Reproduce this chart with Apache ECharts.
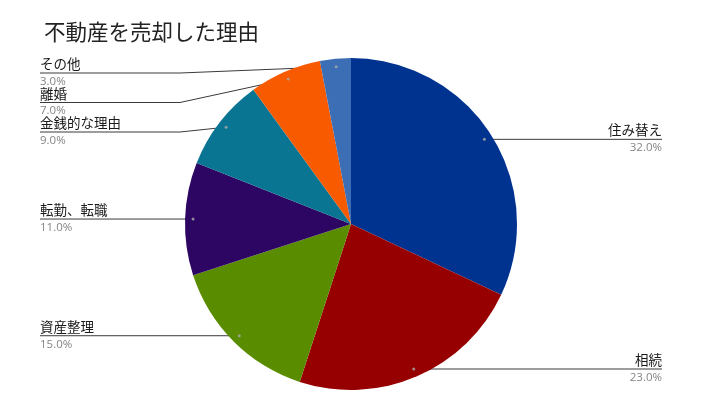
<!DOCTYPE html>
<html>
<head>
<meta charset="utf-8">
<script src="https://cdn.jsdelivr.net/npm/echarts@6/dist/echarts.min.js"></script>
<style>
html,body{margin:0;padding:0;background:#fff;}
#chart{width:718px;height:418px;}
</style>
</head>
<body>
<div id="chart"></div>
<script>
const categories = ['住み替え', '相続', '資産整理', '転勤、転職', '金銭的な理由', '離婚', 'その他'];
const values = [32.0, 23.0, 15.0, 11.0, 9.0, 7.0, 3.0];
const colors = ['#00338f', '#970000', '#5a8c00', '#2d0663', '#0a7593', '#f85a00', '#3b6eb4'];

const chart = echarts.init(document.getElementById('chart'));
const FONT = '"Noto Sans CJK JP", "Noto Sans", sans-serif';
const CX = 351, CY = 224, R = 166, DOT_R = 158;
const LEFT_X = 40, RIGHT_X = 662, TOP_Y = 73, GAP = 29.5, BEND_DX = 140;

const pieData = categories.map((c, i) => ({ name: c, value: values[i], itemStyle: { color: colors[i] } }));

// compute label anchors from the library's own sector layout
let anchors = null;
function computeAnchors() {
  const data = chart.getModel().getSeriesByIndex(0).getData();
  const list = [];
  data.each(function (idx) {
    const lay = data.getItemLayout(idx);
    const mid = (lay.startAngle + lay.endAngle) / 2;
    const x = lay.cx + Math.cos(mid) * DOT_R;
    const y = lay.cy + Math.sin(mid) * DOT_R;
    list[idx] = { x: x, y: y, left: x < lay.cx };
  });
  ['L', 'R'].forEach(function (side) {
    const items = list.map((a, i) => ({ a, i })).filter(o => (o.a.left ? 'L' : 'R') === side);
    items.sort((p, q) => p.a.y - q.a.y);
    let prev = -Infinity;
    items.forEach(function (o) {
      let ly = Math.max(o.a.y, TOP_Y, prev + GAP);
      o.a.ly = ly;
      prev = ly;
    });
  });
  return list;
}

chart.setOption({
  animation: false,
  title: {
    text: '不動産を売却した理由',
    left: 39, top: 16,
    textStyle: { fontFamily: FONT, fontSize: 21.5, fontWeight: 'normal', color: '#222' }
  },
  series: [
    {
      type: 'pie',
      center: [CX, CY],
      radius: [0, R],
      startAngle: 90,
      clockwise: true,
      label: { show: false },
      labelLine: { show: false },
      emphasis: { disabled: true },
      silent: true,
      data: pieData
    }
  ]
});

anchors = computeAnchors();

chart.setOption({
  graphic: anchors.map(a => ({
    type: 'circle', silent: true, z: 100,
    shape: { cx: a.x, cy: a.y, r: 1.5 },
    style: { fill: 'rgba(170,170,170,0.8)' }
  })),
  series: [
    {},
    {
      type: 'pie',
      center: [CX, CY],
      radius: [0, DOT_R],
      startAngle: 90,
      clockwise: true,
      silent: true,
      emphasis: { disabled: true },
      itemStyle: { color: 'rgba(0,0,0,0)' },
      label: {
        show: true,
        position: 'outer',
        formatter: p => '{n|' + p.name + '}\n{p|' + p.value.toFixed(1) + '%}',
        rich: {
          n: { fontFamily: FONT, fontSize: 13.5, color: '#1a1a1a', lineHeight: 17, padding: [0, 0, 1, 0] },
          p: { fontFamily: '"Open Sans", sans-serif', fontSize: 11.5, color: '#858585', lineHeight: 17 }
        }
      },
      labelLine: { show: true, length: 4, length2: 10, lineStyle: { color: '#3a3a3a', width: 1 } },
      labelLayout: function (params) {
        const a = anchors[params.dataIndex];
        const start = [a.x, a.y];
        const y = a.ly;
        const endX = a.left ? LEFT_X : RIGHT_X;
        let bend;
        if (Math.abs(y - a.y) < 1) {
          bend = [a.x, y];
        } else {
          bend = [a.left ? LEFT_X + BEND_DX : RIGHT_X - BEND_DX, y];
        }
        return {
          x: endX,
          y: y,
          align: a.left ? 'left' : 'right',
          verticalAlign: 'middle',
          labelLinePoints: [start, bend, [endX, y]]
        };
      },
      data: pieData.map(d => ({ name: d.name, value: d.value }))
    }
  ]
});
</script>
</body>
</html>
